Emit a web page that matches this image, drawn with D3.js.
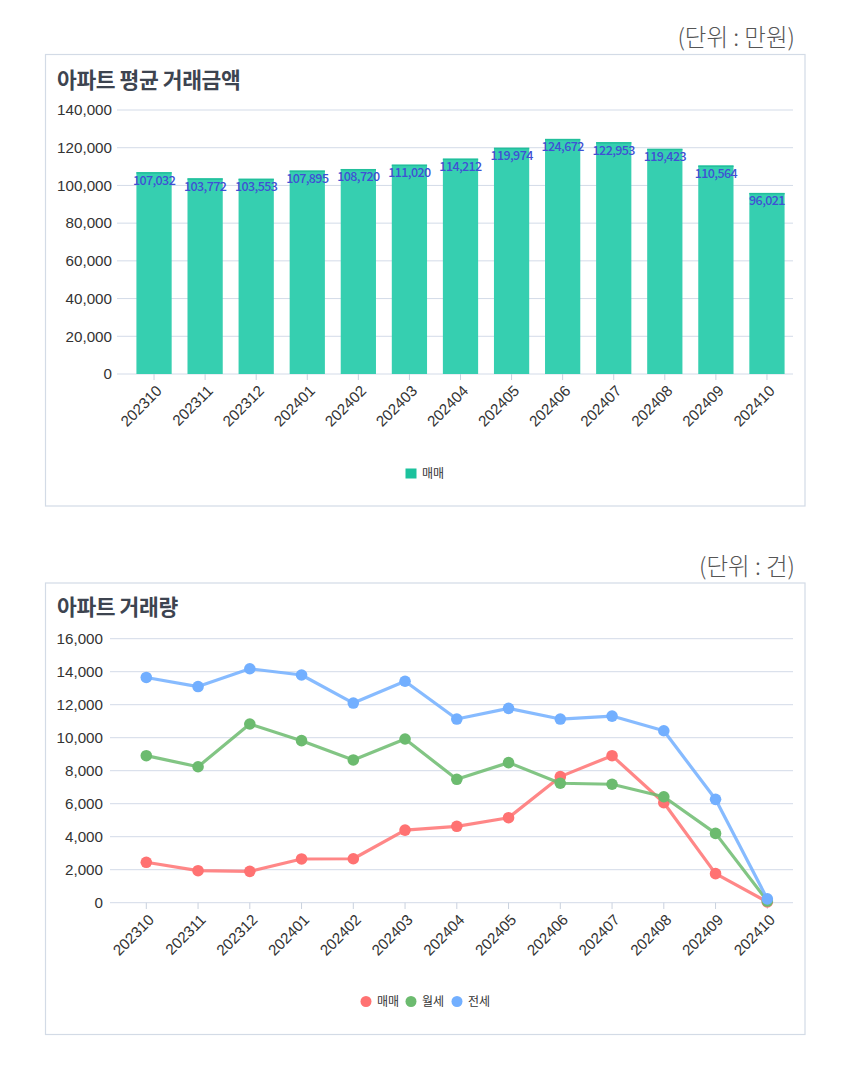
<!DOCTYPE html>
<html><head><meta charset="utf-8">
<script src="https://cdn.jsdelivr.net/npm/d3@7"></script>
<style>
html,body{margin:0;padding:0;background:#fff;}
svg{display:block;}
</style></head>
<body>
<svg id="c" width="850" height="1070"></svg>
<script>
const months = ["202310","202311","202312","202401","202402","202403","202404","202405","202406","202407","202408","202409","202410"];
const avgPrice = [107032,103772,103553,107895,108720,111020,114212,119974,124672,122953,119423,110564,96021];
const priceTicks = [0,20000,40000,60000,80000,100000,120000,140000];
const volSale = [2450,1940,1900,2650,2665,4400,4630,5150,7640,8910,6060,1760,50];
const volMonthly = [8910,8240,10830,9820,8650,9920,7480,8490,7240,7180,6420,4200,100];
const volJeonse = [13650,13100,14180,13800,12100,13420,11130,11780,11130,11310,10420,6265,230];
const volTicks = [0,2000,4000,6000,8000,10000,12000,14000,16000];
const seriesNames = ["매매","월세","전세"];
const seriesColors = ["#ff7272","#6cbb6f","#72afff"];

const svg = d3.select("#c");
const KR = "'Noto Sans CJK KR','Noto Sans',sans-serif";
const NUM = "'Liberation Sans',Arial,sans-serif";
const fmt = d3.format(",");
const gridColor = "#d3dbe8";

function panel(y0, h, title, titleY, unit, unitY){
  svg.append("rect").attr("x",45.5).attr("y",y0+0.5).attr("width",759.5).attr("height",h)
    .attr("fill","#fff").attr("stroke","#d3dbe6").attr("stroke-width",1.2);
  svg.append("text").attr("x",57).attr("y",titleY).text(title)
    .attr("font-family",KR).attr("font-weight",700).attr("font-size",21.5).attr("letter-spacing",-0.4).attr("fill","#3d4450");
  svg.append("text").attr("x",795).attr("y",unitY).text(unit).attr("text-anchor","end")
    .attr("font-family",KR).attr("font-weight",300).attr("font-size",23.5).attr("letter-spacing",0).attr("fill","#555");
}

// ---------- Chart 1: bars ----------
panel(54, 451.5, "아파트 평균 거래금액", 88, "(단위 : 만원)", 46);
const x1 = d3.scaleBand().domain(months).range([128.5, 792.5]).paddingInner(0.31).paddingOuter(0.155);
const y1 = d3.scaleLinear().domain([0,140000]).range([374,110]);
const g1 = svg.append("g");
g1.selectAll("line.grid").data(priceTicks).join("line").attr("class","grid")
  .attr("x1",117).attr("x2",793).attr("y1",d=>y1(d)).attr("y2",d=>y1(d))
  .attr("stroke",gridColor).attr("stroke-width",1);
g1.selectAll("text.yl").data(priceTicks).join("text").attr("class","yl")
  .attr("x",112).attr("y",d=>y1(d)).attr("dy","0.35em").attr("text-anchor","end")
  .attr("font-family",NUM).attr("font-size",15.2).attr("fill","#333").text(d=>fmt(d));
g1.selectAll("rect.bar").data(avgPrice).join("rect").attr("class","bar")
  .attr("x",(d,i)=>x1(months[i])).attr("width",x1.bandwidth())
  .attr("y",d=>y1(d)).attr("height",d=>y1(0)-y1(d))
  .attr("fill","#36cfb0");
g1.selectAll("rect.bartop").data(avgPrice).join("rect").attr("class","bartop")
  .attr("x",(d,i)=>x1(months[i])).attr("width",x1.bandwidth())
  .attr("y",d=>y1(d)).attr("height",1.5).attr("fill","#22bf9c");
g1.selectAll("line.tick").data(months).join("line").attr("class","tick")
  .attr("x1",d=>x1(d)+x1.bandwidth()/2).attr("x2",d=>x1(d)+x1.bandwidth()/2)
  .attr("y1",374).attr("y2",380).attr("stroke","#c9d1de");
g1.selectAll("text.xl").data(months).join("text").attr("class","xl")
  .attr("transform",d=>`translate(${x1(d)+x1.bandwidth()/2+5},${388}) rotate(-45)`)
  .attr("text-anchor","end").attr("dy","0.35em")
  .attr("font-family",NUM).attr("font-size",15.2).attr("fill","#333").text(d=>d);
g1.selectAll("text.val").data(avgPrice).join("text").attr("class","val")
  .attr("x",(d,i)=>x1(months[i])+x1.bandwidth()/2).attr("y",d=>y1(d)+8).attr("dy","0.35em")
  .attr("text-anchor","middle").attr("font-family",KR).attr("font-size",12.5).attr("font-weight",500).attr("letter-spacing",-0.6)
  .attr("fill","#4050d4").text(d=>fmt(d));
// legend
svg.append("rect").attr("x",405.5).attr("y",468.5).attr("width",11).attr("height",10).attr("fill","#1cc29d");
svg.append("text").attr("x",422).attr("y",474).attr("dy","0.35em").text(seriesNames[0])
  .attr("font-family",KR).attr("font-size",12).attr("fill","#333");

// ---------- Chart 2: lines ----------
panel(582.5, 451.5, "아파트 거래량", 615, "(단위 : 건)", 575);
const x2 = d3.scalePoint().domain(months).range([146.3, 767.3]);
const y2 = d3.scaleLinear().domain([0,16000]).range([902.7,638.7]);
const g2 = svg.append("g");
g2.selectAll("line.grid").data(volTicks).join("line").attr("class","grid")
  .attr("x1",110).attr("x2",793).attr("y1",d=>y2(d)).attr("y2",d=>y2(d))
  .attr("stroke",gridColor).attr("stroke-width",1);
g2.selectAll("text.yl").data(volTicks).join("text").attr("class","yl")
  .attr("x",103).attr("y",d=>y2(d)).attr("dy","0.35em").attr("text-anchor","end")
  .attr("font-family",NUM).attr("font-size",15.2).attr("fill","#333").text(d=>fmt(d));
g2.selectAll("line.tick").data(months).join("line").attr("class","tick")
  .attr("x1",d=>x2(d)).attr("x2",d=>x2(d)).attr("y1",902.7).attr("y2",909)
  .attr("stroke","#c9d1de");
g2.selectAll("text.xl").data(months).join("text").attr("class","xl")
  .attr("transform",d=>`translate(${x2(d)+5},${917}) rotate(-45)`)
  .attr("text-anchor","end").attr("dy","0.35em")
  .attr("font-family",NUM).attr("font-size",15.2).attr("fill","#333").text(d=>d);
const allSeries = [volSale, volMonthly, volJeonse];
const line = d3.line().x((d,i)=>x2(months[i])).y(d=>y2(d));
allSeries.forEach((s,k)=>{
  g2.append("path").datum(s).attr("d",line).attr("fill","none")
    .attr("stroke",seriesColors[k]).attr("stroke-opacity",0.85).attr("stroke-width",3.2)
    .attr("stroke-linejoin","round");
  g2.selectAll(null).data(s).join("circle")
    .attr("cx",(d,i)=>x2(months[i])).attr("cy",d=>y2(d)).attr("r",5.8)
    .attr("fill",seriesColors[k]);
});
// legend
const lx = [366, 411, 457];
seriesNames.forEach((n,k)=>{
  svg.append("circle").attr("cx",lx[k]).attr("cy",1001.5).attr("r",5.5).attr("fill",seriesColors[k]);
  svg.append("text").attr("x",lx[k]+11).attr("y",1001.5).attr("dy","0.35em").text(n)
    .attr("font-family",KR).attr("font-size",12).attr("fill","#333");
});
</script>
</body></html>
